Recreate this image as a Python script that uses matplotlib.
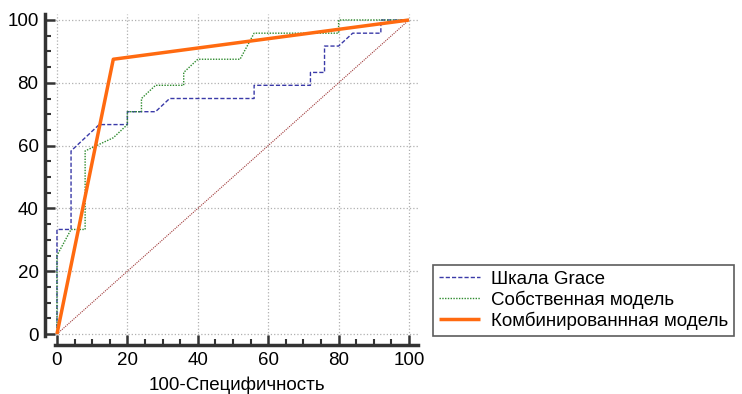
import matplotlib.pyplot as plt
from matplotlib.ticker import MultipleLocator

plt.rcParams['font.family'] = ['Liberation Sans', 'DejaVu Sans']

# ROC curves (x = 100-specificity, y = sensitivity)
grace_x = [0, 0, 4, 4, 12, 20, 20, 28, 32, 56, 56, 72, 72, 76, 76, 80, 84, 92, 92, 100]
grace_y = [0, 33.3, 33.3, 58.3, 66.7, 66.7, 70.8, 70.8, 75, 75, 79.2, 79.2, 83.3, 83.3, 91.7, 91.7, 95.8, 95.8, 100, 100]

own_x = [0, 0, 4, 8, 8, 16, 20, 20, 24, 24, 28, 36, 36, 40, 52, 56, 80, 80, 100]
own_y = [0, 25, 33.3, 33.3, 58.3, 62.5, 66.7, 70.8, 70.8, 75, 79.2, 79.2, 83.3, 87.5, 87.5, 95.8, 95.8, 100, 100]

comb_x = [0, 16, 100]
comb_y = [0, 87.5, 100]

ref_x = [0, 100]
ref_y = [0, 100]

labels = ['Шкала Grace', 'Собственная модель', 'Комбинированнная модель']
x_label = '100-Специфичность'

fig = plt.figure(figsize=(7.42, 3.94), dpi=100)
ax = fig.add_axes([0.0744, 0.1482, 0.4887, 0.817])

ax.plot(ref_x, ref_y, color='#a03a3a', lw=0.8, ls=(0, (1, 1)))
l1, = ax.plot(grace_x, grace_y, color='#3a3aa8', lw=1.0, ls=(0, (3, 1.5)))
l2, = ax.plot(own_x, own_y, color='#2e8b2e', lw=1.0, ls=(0, (1, 1)))
l3, = ax.plot(comb_x, comb_y, color='#ff6a10', lw=2.5, solid_capstyle='butt')

ax.set_xlim(-0.5, 102.5)
ax.set_ylim(-0.5, 102)
ax.xaxis.set_major_locator(MultipleLocator(20))
ax.yaxis.set_major_locator(MultipleLocator(20))
ax.xaxis.set_minor_locator(MultipleLocator(5))
ax.yaxis.set_minor_locator(MultipleLocator(5))
ax.grid(True, which='major', color='#b0b0b0', ls=':', lw=0.9)

for s in ['top', 'right']:
    ax.spines[s].set_visible(False)
ax.spines['left'].set_position(('outward', 7))
ax.spines['bottom'].set_position(('outward', 7))
for s in ['left', 'bottom']:
    ax.spines[s].set_linewidth(2.5)
    ax.spines[s].set_color('#333333')
ax.tick_params(which='major', direction='in', length=7, width=1.8, color='#333333',
               labelsize=13.5, pad=5)
ax.tick_params(which='minor', direction='in', length=4, width=1.5, color='#333333')
ax.set_xlabel(x_label, fontsize=13.5, labelpad=5)

leg = fig.legend([l1, l2, l3], labels, loc='upper left',
                 bbox_to_anchor=(433 / 742, 1 - 265 / 394), fontsize=13.5,
                 frameon=True, fancybox=False, handlelength=2.2,
                 borderpad=0.3, labelspacing=0.15, handletextpad=0.6,
                 borderaxespad=0)
leg.get_frame().set_edgecolor('#333333')
leg.get_frame().set_linewidth(1.2)

fig.savefig('out.png', dpi=100)
